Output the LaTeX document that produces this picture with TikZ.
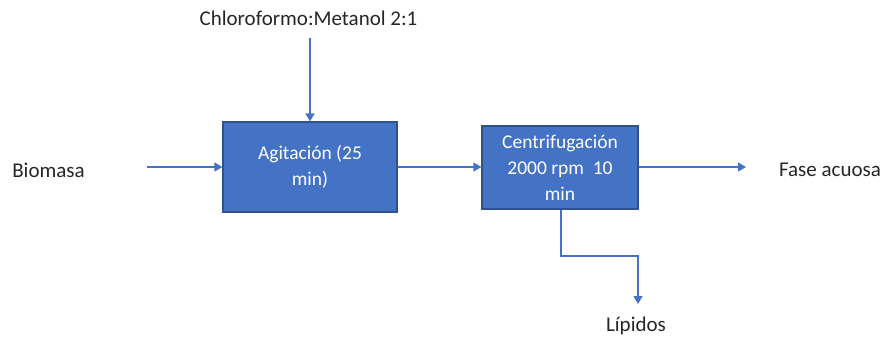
\documentclass[tikz,border=0pt]{standalone}
\usepackage{fontspec}
\setmainfont{Carlito}
\usetikzlibrary{arrows.meta}
\definecolor{boxfill}{HTML}{4472C4}
\definecolor{boxline}{HTML}{2F528F}
\definecolor{arrowc}{HTML}{4472C4}
\begin{document}
\begin{tikzpicture}[x=1pt,y=-1pt,
  procbox/.style={draw=boxline,line width=1.2pt,fill=boxfill,text=white,align=center,inner sep=0pt,font=\fontsize{19.5}{26}\selectfont},
  lbl/.style={text=black!85,inner sep=0pt,font=\fontsize{21}{24}\selectfont},
  flow/.style={draw=arrowc,line width=1.4pt,-{Triangle[length=8pt,width=9pt]}}]
\useasboundingbox (0,0) rectangle (885,338);
\node[procbox,minimum width=174pt,minimum height=90pt] (agit) at (310,167) {Agitación (25\\min)};
\node[procbox,minimum width=156pt,minimum height=83pt] (cent) at (560,167.5) {Centrifugación\\2000 rpm\ \ 10\\min};
\node[lbl] (bio) at (48.5,170) {Biomasa};
\node[lbl] (chl) at (308.5,18) {Chloroformo:Metanol 2:1};
\node[lbl] (fase) at (830,170) {Fase acuosa};
\node[lbl] (lip) at (636,326) {Lípidos};
\coordinate (bioS) at (147,167);
\coordinate (chlS) at (310,38);
\coordinate (faseE) at (746,167);
\coordinate (lipE) at (638,304);
\draw[flow] (bioS) -- (bioS -| agit.west);
\draw[flow] (chlS) -- (chlS |- agit.north);
\draw[flow] (agit.east |- 0,167) -- (cent.west |- 0,167);
\draw[flow] (cent.east |- 0,167) -- (faseE);
\draw[flow] (561,0 |- cent.south) -- (561,256) -- (638,256) -- (lipE);
\end{tikzpicture}
\end{document}
